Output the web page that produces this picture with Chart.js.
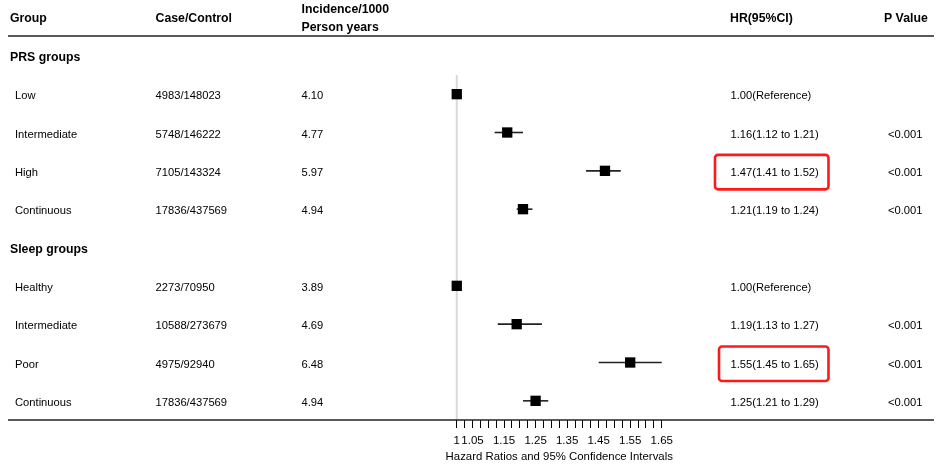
<!DOCTYPE html>
<html>
<head>
<meta charset="utf-8">
<script src="https://cdn.jsdelivr.net/npm/chart.js@4/dist/chart.umd.min.js"></script>
<style>
  html, body { margin: 0; padding: 0; background: #fff; }
  #wrap { width: 940px; height: 466px; position: relative; }
</style>
</head>
<body>
<div id="wrap"><canvas id="c"></canvas></div>
<script>
// ---- data ----
const sections = ['PRS groups', 'Sleep groups'];
const sectionRows = [0, 5];
const categories = ['Low', 'Intermediate', 'High', 'Continuous', 'Healthy', 'Intermediate', 'Poor', 'Continuous'];
const rowIndex = [1, 2, 3, 4, 6, 7, 8, 9];
const caseControl = ['4983/148023', '5748/146222', '7105/143324', '17836/437569', '2273/70950', '10588/273679', '4975/92940', '17836/437569'];
const incidence = ['4.10', '4.77', '5.97', '4.94', '3.89', '4.69', '6.48', '4.94'];
const hr = [1.00, 1.16, 1.47, 1.21, 1.00, 1.19, 1.55, 1.25];
const ciLow = [null, 1.12, 1.41, 1.19, null, 1.13, 1.45, 1.21];
const ciHigh = [null, 1.21, 1.52, 1.24, null, 1.27, 1.65, 1.29];
const hrText = ['1.00(Reference)', '1.16(1.12 to 1.21)', '1.47(1.41 to 1.52)', '1.21(1.19 to 1.24)', '1.00(Reference)', '1.19(1.13 to 1.27)', '1.55(1.45 to 1.65)', '1.25(1.21 to 1.29)'];
const pText = ['', '<0.001', '<0.001', '<0.001', '', '<0.001', '<0.001', '<0.001'];
const highlighted = [false, false, true, false, false, false, true, false];
const tickLabels = ['1', '1.05', '1.15', '1.25', '1.35', '1.45', '1.55', '1.65'];
const tickStep = 0.025;
const tickFirst = 1, tickLast = 1.65;
const xMin = 0.95, xMax = 1.70;
const xTitle = 'Hazard Ratios and 95% Confidence Intervals';
const headers = { group: 'Group', cc: 'Case/Control', inc1: 'Incidence/1000', inc2: 'Person years', hr: 'HR(95%CI)', p: 'P Value' };

const FONT = "'Liberation Sans', Arial, sans-serif";
Chart.defaults.font.family = FONT;

const tablePlugin = {
  id: 'table',
  beforeDatasetsDraw(chart) {
    const ctx = chart.ctx, x = chart.scales.x, y = chart.scales.y, area = chart.chartArea;
    ctx.save();
    // reference line at HR = 1
    const xr = x.getPixelForValue(1);
    ctx.strokeStyle = '#d9d9d9';
    ctx.lineWidth = 2;
    ctx.beginPath(); ctx.moveTo(xr, area.top); ctx.lineTo(xr, area.bottom); ctx.stroke();
    // confidence intervals
    ctx.strokeStyle = '#222';
    ctx.lineWidth = 1.6;
    for (let i = 0; i < hr.length; i++) {
      if (ciLow[i] == null) continue;
      const py = y.getPixelForValue(rowIndex[i]);
      ctx.beginPath();
      ctx.moveTo(x.getPixelForValue(ciLow[i]), py);
      ctx.lineTo(x.getPixelForValue(ciHigh[i]), py);
      ctx.stroke();
    }
    ctx.restore();
  },
  afterDraw(chart) {
    const ctx = chart.ctx, y = chart.scales.y, area = chart.chartArea;
    ctx.save();
    ctx.fillStyle = '#000';
    ctx.textBaseline = 'middle';
    ctx.textAlign = 'left';
    const bold = "bold 12.3px " + FONT;
    const reg = "11.2px " + FONT;
    // headers
    ctx.font = bold;
    ctx.fillText(headers.group, 10, 18.5);
    ctx.fillText(headers.cc, 155.5, 18.5);
    ctx.fillText(headers.inc1, 301.5, 9.5);
    ctx.fillText(headers.inc2, 301.5, 27.5);
    ctx.fillText(headers.hr, 730, 18.5);
    ctx.fillText(headers.p, 884, 18.5);
    // horizontal rules
    ctx.strokeStyle = '#222';
    ctx.lineWidth = 1.6;
    ctx.beginPath(); ctx.moveTo(8, 36); ctx.lineTo(934, 36); ctx.stroke();
    ctx.beginPath(); ctx.moveTo(8, area.bottom); ctx.lineTo(934, area.bottom); ctx.stroke();
    // sections
    for (let s = 0; s < sections.length; s++) {
      ctx.font = bold;
      ctx.fillText(sections[s], 10, y.getPixelForValue(sectionRows[s]) + 2);
    }
    // rows
    ctx.font = reg;
    for (let i = 0; i < categories.length; i++) {
      const py = y.getPixelForValue(rowIndex[i]) + 2;
      ctx.fillText(categories[i], 15, py);
      ctx.fillText(caseControl[i], 155.5, py);
      ctx.fillText(incidence[i], 301.5, py);
      ctx.fillText(hrText[i], 730.5, py);
      if (pText[i]) ctx.fillText(pText[i], 888, py);
      if (highlighted[i]) {
        ctx.strokeStyle = '#ff1a1a';
        ctx.lineWidth = 2.6;
        const left = i === 6 ? 719 : 715;
        ctx.beginPath();
        ctx.roundRect(left, py - 18, 828.5 - left, 34.5, 3);
        ctx.stroke();
      }
    }
    ctx.restore();
  }
};

const tickVals = [];
for (let k = 0; k <= Math.round((tickLast - tickFirst) / tickStep); k++) tickVals.push(Math.round((tickFirst + k * tickStep) * 1000) / 1000);

new Chart(document.getElementById('c'), {
  type: 'scatter',
  data: {
    datasets: [{
      data: hr.map((v, i) => ({ x: v, y: rowIndex[i] })),
      clip: false,
      pointStyle: 'rect',
      pointRadius: 7.3,
      pointHoverRadius: 7.3,
      backgroundColor: '#000',
      borderColor: '#000',
      borderWidth: 0
    }]
  },
  options: {
    responsive: true,
    maintainAspectRatio: false,
    animation: false,
    events: [],
    layout: { padding: { left: 441, right: 262.5, top: 75, bottom: 0 } },
    plugins: { legend: { display: false }, tooltip: { enabled: false } },
    scales: {
      x: {
        type: 'linear',
        min: xMin, max: xMax,
        afterBuildTicks(scale) { scale.ticks = tickVals.map(v => ({ value: v })); },
        afterFit(scale) { scale.height = 46; },
        border: { display: false },
        grid: { display: true, drawOnChartArea: false, drawTicks: true, tickLength: 8, color: '#000', lineWidth: 1 },
        ticks: {
          autoSkip: false, maxRotation: 0, minRotation: 0, padding: 6,
          color: '#000', font: { size: 11.5 },
          callback(value) {
            const idx = tickLabels.findIndex(t => Math.abs(parseFloat(t) - value) < 1e-6);
            return idx >= 0 ? tickLabels[idx] : '';
          }
        },
        title: { display: true, text: xTitle, color: '#000', font: { size: 11.4 }, padding: { top: 0, bottom: 2 } }
      },
      y: {
        type: 'linear', display: false, reverse: true, min: 0.5, max: 9.5
      }
    }
  },
  plugins: [tablePlugin]
});
</script>
</body>
</html>
